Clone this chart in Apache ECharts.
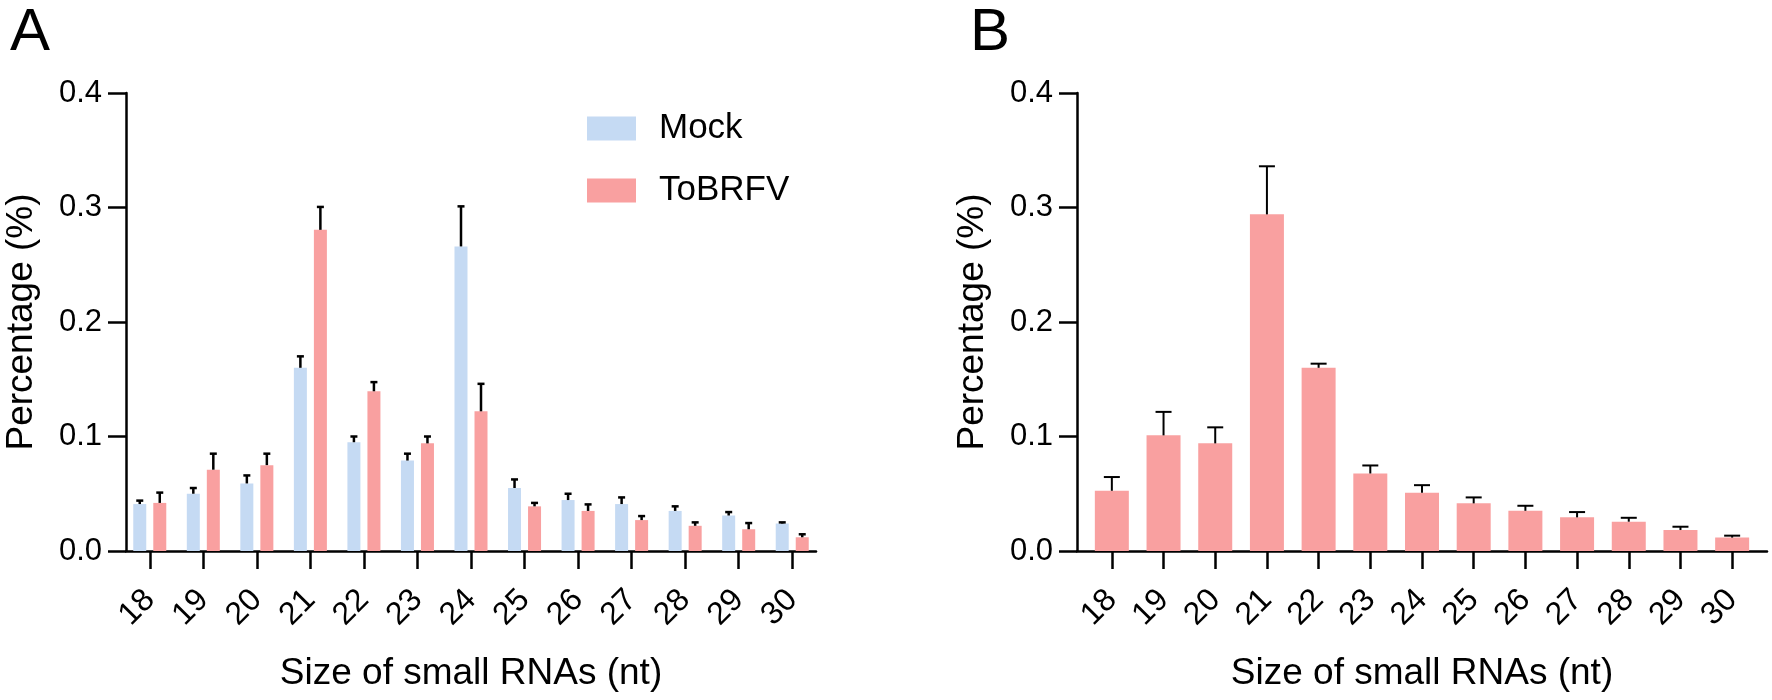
<!DOCTYPE html>
<html>
<head>
<meta charset="utf-8">
<script src="https://cdn.jsdelivr.net/npm/echarts@6/dist/echarts.min.js"></script>
<style>
  html, body { margin: 0; padding: 0; background: #fff; }
  #main { width: 1772px; height: 700px; }
</style>
</head>
<body>
<div id="main"></div>
<script>
// small RNA sizes (nt)
const sizes = ['18', '19', '20', '21', '22', '23', '24', '25', '26', '27', '28', '29', '30']
const yTicks = [0, 0.1, 0.2, 0.3, 0.4]

// panel A
const mockMean = [0.041, 0.050, 0.059, 0.160, 0.095, 0.079, 0.266, 0.055, 0.0445, 0.041, 0.035, 0.031, 0.024]
const mockErr = [0.003, 0.005, 0.007, 0.010, 0.005, 0.006, 0.035, 0.0075, 0.0055, 0.0058, 0.004, 0.003, 0.001]
const tobrfvMean = [0.042, 0.071, 0.075, 0.2805, 0.1395, 0.094, 0.122, 0.039, 0.035, 0.027, 0.022, 0.019, 0.012]
const tobrfvErr = [0.009, 0.014, 0.010, 0.020, 0.008, 0.006, 0.024, 0.003, 0.0057, 0.0035, 0.003, 0.0054, 0.0026]

// panel B
const infMean = [0.0526, 0.101, 0.094, 0.294, 0.160, 0.0677, 0.0508, 0.0416, 0.0351, 0.0294, 0.0256, 0.0183, 0.0117]
const infErr = [0.012, 0.0205, 0.014, 0.042, 0.0036, 0.007, 0.0067, 0.0052, 0.0044, 0.0046, 0.0034, 0.0029, 0.0017]

const FONT = 'Liberation Sans, Arial, sans-serif'
const BLUE = '#C5DAF3'
const PINK = '#F9A0A0'

// [index, top of bar, top of error bar]
function errData(mean, err) {
  return mean.map((v, i) => [i, v, v + err[i]])
}

function errSeries(xi, yi, mean, err, shift, cap, lw) {
  return {
    type: 'custom',
    xAxisIndex: xi,
    yAxisIndex: yi,
    z: 5,
    silent: true,
    encode: { x: 0, y: [1, 2] },
    data: errData(mean, err),
    renderItem: (params, api) => {
      const lo = api.coord([api.value(0), api.value(1)])
      const hi = api.coord([api.value(0), api.value(2)])
      const x = lo[0] + shift
      const st = { stroke: '#000', lineWidth: lw }
      return {
        type: 'group',
        children: [
          { type: 'line', shape: { x1: x, y1: lo[1], x2: x, y2: hi[1] }, style: st },
          { type: 'line', shape: { x1: x - cap / 2, y1: hi[1], x2: x + cap / 2, y2: hi[1] }, style: st }
        ]
      }
    }
  }
}

const axisLineStyle = { color: '#000', width: 2.5 }

function frameAxes(gi) {
  return {
    x: {
      gridIndex: gi, type: 'value', min: 0, max: 1,
      axisLine: { show: true, lineStyle: axisLineStyle },
      axisTick: { show: false }, axisLabel: { show: false }, splitLine: { show: false }
    },
    y: {
      gridIndex: gi, type: 'value', min: yTicks[0], max: yTicks[yTicks.length - 1], interval: 0.1,
      name: 'Percentage (%)', nameLocation: 'middle', nameGap: 86,
      nameTextStyle: { fontSize: 37, color: '#000', fontFamily: FONT },
      axisLine: { show: true, lineStyle: axisLineStyle },
      axisTick: { show: true, length: 18, lineStyle: axisLineStyle },
      axisLabel: { fontSize: 31, color: '#000', fontFamily: FONT, margin: 24, formatter: v => v.toFixed(1) },
      splitLine: { show: false }
    }
  }
}

function dataAxes(gi) {
  return {
    x: {
      gridIndex: gi, type: 'category', data: sizes,
      name: 'Size of small RNAs (nt)', nameLocation: 'middle', nameGap: 104,
      nameTextStyle: { fontSize: 37, color: '#000', fontFamily: FONT },
      axisLine: { show: false },
      axisTick: { show: true, alignWithLabel: true, length: 18, lineStyle: axisLineStyle },
      axisLabel: { rotate: 45, fontSize: 32, color: '#000', fontFamily: FONT, margin: 44, interval: 0 },
      splitLine: { show: false }
    },
    y: { gridIndex: gi, type: 'value', min: 0, max: 0.4, show: false }
  }
}

const fA = frameAxes(0), dA = dataAxes(1), fB = frameAxes(2), dB = dataAxes(3)

const myChart = echarts.init(document.getElementById('main'), null, { renderer: 'canvas' })
myChart.setOption({
  animation: false,
  backgroundColor: '#fff',
  textStyle: { fontFamily: FONT },
  title: [
    { text: 'A', left: 5, top: -2, textStyle: { fontSize: 60, fontWeight: 'normal', color: '#000', fontFamily: FONT } },
    { text: 'B', left: 965, top: -2, textStyle: { fontSize: 60, fontWeight: 'normal', color: '#000', fontFamily: FONT } }
  ],
  legend: {
    data: ['Mock', 'ToBRFV'],
    orient: 'vertical',
    left: 582, top: 106,
    itemWidth: 49, itemHeight: 24, itemGap: 27,
    icon: 'rect',
    textStyle: { fontSize: 35, color: '#000', fontFamily: FONT, padding: [0, 0, 0, 18] }
  },
  grid: [
    { left: 126, top: 93, width: 690, height: 458 },
    { left: 123, top: 93, width: 696, height: 458 },
    { left: 1077, top: 93, width: 690, height: 458 },
    { left: 1086, top: 93, width: 672, height: 458 }
  ],
  xAxis: [fA.x, dA.x, fB.x, dB.x],
  yAxis: [fA.y, dA.y, fB.y, dB.y],
  series: [
    {
      name: 'Mock', type: 'bar', xAxisIndex: 1, yAxisIndex: 1,
      data: mockMean, barWidth: 13, barGap: '54%',
      itemStyle: { color: BLUE }
    },
    {
      name: 'ToBRFV', type: 'bar', xAxisIndex: 1, yAxisIndex: 1,
      data: tobrfvMean, barWidth: 13, barGap: '54%',
      itemStyle: { color: PINK }
    },
    errSeries(1, 1, mockMean, mockErr, -10, 7, 2.5),
    errSeries(1, 1, tobrfvMean, tobrfvErr, 10, 7, 2.5),
    {
      name: 'ToBRFV', type: 'bar', xAxisIndex: 3, yAxisIndex: 3,
      data: infMean, barWidth: 34,
      itemStyle: { color: PINK }
    },
    errSeries(3, 3, infMean, infErr, 0, 16, 2)
  ]
})
</script>
</body>
</html>
